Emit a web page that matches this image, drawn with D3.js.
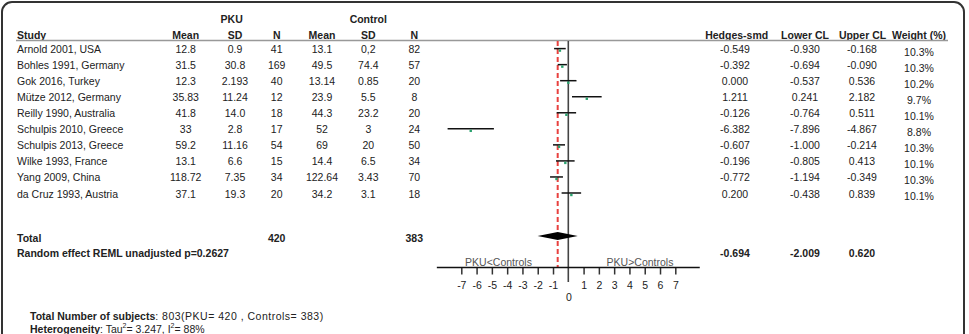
<!DOCTYPE html>
<html>
<head>
<meta charset="utf-8">
<script src="https://cdn.jsdelivr.net/npm/d3@7"></script>
<style>
  body { margin: 0; background: #fff; }
  svg text { font-family: "Liberation Sans", Arial, sans-serif; font-size: 10.5px; fill: #222; }
  .b { font-weight: bold; }
</style>
</head>
<body>
<div class="chart"></div>
<script>
// DATA ------------------------------------
const studies = ['Arnold 2001, USA', 'Bohles 1991, Germany', 'Gok 2016, Turkey', 'Mütze 2012, Germany',
    'Reilly 1990, Australia', 'Schulpis 2010, Greece', 'Schulpis 2013, Greece', 'Wilke 1993, France',
    'Yang 2009, China', 'da Cruz 1993, Austria'];
const pkuMean = ['12.8', '31.5', '12.3', '35.83', '41.8', '33', '59.2', '13.1', '118.72', '37.1'];
const pkuSD = ['0.9', '30.8', '2.193', '11.24', '14.0', '2.8', '11.16', '6.6', '7.35', '19.3'];
const pkuN = ['41', '169', '40', '12', '18', '17', '54', '15', '34', '20'];
const ctlMean = ['13.1', '49.5', '13.14', '23.9', '44.3', '52', '69', '14.4', '122.64', '34.2'];
const ctlSD = ['0,2', '74.4', '0.85', '5.5', '23.2', '3', '20', '6.5', '3.43', '3.1'];
const ctlN = ['82', '57', '20', '8', '20', '24', '50', '34', '70', '18'];
const hedges = [-0.549, -0.392, 0.000, 1.211, -0.126, -6.382, -0.607, -0.196, -0.772, 0.200];
const lowerCL = [-0.930, -0.694, -0.537, 0.241, -0.764, -7.896, -1.000, -0.805, -1.194, -0.438];
const upperCL = [-0.168, -0.090, 0.536, 2.182, 0.511, -4.867, -0.214, 0.413, -0.349, 0.839];
const weights = ['10.3%', '10.3%', '10.2%', '9.7%', '10.1%', '8.8%', '10.3%', '10.1%', '10.3%', '10.1%'];
const pooled = { est: -0.694, lo: -2.009, hi: 0.620 };
const totals = { pku: 420, ctl: 383 };
const axisTicks = [-7, -6, -5, -4, -3, -2, -1, 0, 1, 2, 3, 4, 5, 6, 7];

// CHART INIT ------------------------------
const width = 969, height = 334;

const svg = d3.select('.chart')
    .append('svg')
    .attr('width', width)
    .attr('height', height);

// frame
svg.append('rect')
    .attr('x', 2).attr('y', 2)
    .attr('width', 962).attr('height', 345)
    .attr('rx', 10)
    .attr('fill', 'none')
    .attr('stroke', '#333')
    .attr('stroke-width', 2);

const xScale = d3.scaleLinear().domain([-7, 7]).range([461.3, 675.3]);
const yScale = d3.scaleLinear().domain([0, 9]).range([48.6, 193]);

// plain hyphen for minus, like the source table
const fmt = v => d3.format('.3f')(v).replace('\u2212', '-');

function txt(x, y, s, anchor, cls) {
    return svg.append('text')
        .attr('x', x).attr('y', y)
        .attr('text-anchor', anchor || 'middle')
        .attr('dominant-baseline', 'central')
        .attr('class', cls || null)
        .text(s);
}

// headers
txt(231.7, 18.5, 'PKU', 'middle', 'b');
txt(368.3, 18.5, 'Control', 'middle', 'b');

const headY = 34.5;
txt(17, headY, 'Study', 'start', 'b');
[['Mean', 185.7], ['SD', 235], ['N', 276.7], ['Mean', 322], ['SD', 368.3], ['N', 414.3],
 ['Hedges-smd', 736.7], ['Lower CL', 805], ['Upper CL', 862.5], ['Weight (%)', 919]]
    .forEach(([s, x]) => txt(x, headY, s, 'middle', 'b'));

svg.append('line')
    .attr('x1', 16).attr('x2', 948)
    .attr('y1', 40.5).attr('y2', 40.5)
    .attr('stroke', '#999')
    .attr('stroke-width', 1.5);

// table rows
const cols = [
    [pkuMean, 185.7], [pkuSD, 235], [pkuN, 276.7],
    [ctlMean, 322], [ctlSD, 368.3], [ctlN, 414.3]
];
studies.forEach((s, i) => {
    const y = yScale(i) + 0.5;
    txt(17, y, s, 'start');
    cols.forEach(([arr, x]) => txt(x, y, arr[i]));
    txt(735, y, fmt(hedges[i]));
    txt(805, y, fmt(lowerCL[i]));
    txt(862, y, fmt(upperCL[i]));
    txt(919, y + 2.5, weights[i]);
});

// totals
const totY = 237.5, reY = 253.3;
txt(17, totY, 'Total', 'start', 'b');
txt(276.7, totY, totals.pku, 'middle', 'b');
txt(414.3, totY, totals.ctl, 'middle', 'b');
txt(17, reY, 'Random effect REML unadjusted p=0.2627', 'start', 'b');
txt(735, reY, fmt(pooled.est), 'middle', 'b');
txt(805, reY, fmt(pooled.lo), 'middle', 'b');
txt(862, reY, fmt(pooled.hi), 'middle', 'b');

// FOREST PLOT -----------------------------
const axisY = 267.5;
const plot = svg.append('g');

// zero line
plot.append('line')
    .attr('x1', xScale(0)).attr('x2', xScale(0))
    .attr('y1', 41).attr('y2', 282)
    .attr('stroke', '#444')
    .attr('stroke-width', 1.6);

// pooled estimate dashed line
plot.append('line')
    .attr('x1', xScale(pooled.est)).attr('x2', xScale(pooled.est))
    .attr('y1', 41).attr('y2', axisY)
    .attr('stroke', '#e8413f')
    .attr('stroke-width', 2)
    .attr('stroke-dasharray', '5,3');

// CI lines
plot.selectAll('.ci')
    .data(studies)
    .enter()
    .append('line')
    .attr('class', 'ci')
    .attr('x1', (d, i) => xScale(lowerCL[i]))
    .attr('x2', (d, i) => xScale(upperCL[i]))
    .attr('y1', (d, i) => yScale(i))
    .attr('y2', (d, i) => yScale(i))
    .attr('stroke', '#111')
    .attr('stroke-width', 1.5);

// point markers
plot.selectAll('.pt')
    .data(studies)
    .enter()
    .append('rect')
    .attr('class', 'pt')
    .attr('x', (d, i) => xScale(hedges[i]) - 1.2)
    .attr('y', (d, i) => yScale(i) + 0.8)
    .attr('width', 2.4)
    .attr('height', 2.4)
    .attr('fill', '#2ba36f');

// pooled diamond
const dY = 236;
plot.append('path')
    .attr('d', `M${xScale(pooled.lo)},${dY} L${xScale(pooled.est)},${dY - 4} L${xScale(pooled.hi)},${dY} L${xScale(pooled.est)},${dY + 4} Z`)
    .attr('fill', '#000');

// axis
const xAxis = d3.axisBottom(xScale)
    .tickValues(axisTicks)
    .tickSize(7)
    .tickFormat(d => String(d));

const xDisplay = plot.append('g')
    .attr('class', 'axis x-axis')
    .attr('transform', `translate(0, ${axisY})`)
    .call(xAxis);

xDisplay.select('.domain').remove();
xDisplay.selectAll('.tick line')
    .attr('stroke', '#333')
    .attr('stroke-width', 1.5)
    .filter(d => d === 0).remove();
xDisplay.selectAll('.tick text')
    .attr('fill', '#333')
    .attr('font-size', '11px')
    .attr('font-family', '"Liberation Sans", Arial, sans-serif')
    .attr('dy', null)
    .attr('y', 17)
    .attr('dominant-baseline', 'central')
    .filter(d => d === 0).attr('y', 29);

plot.append('line')
    .attr('x1', xScale(-8.6)).attr('x2', xScale(8.6))
    .attr('y1', axisY).attr('y2', axisY)
    .attr('stroke', '#111')
    .attr('stroke-width', 1.5);

txt(498.5, 262, 'PKU<Controls').style('fill', '#555');
txt(640, 262, 'PKU>Controls').style('fill', '#555');

// FOOTER ----------------------------------
const f1 = svg.append('text').attr('x', 30).attr('y', 316).attr('dominant-baseline', 'central');
f1.append('tspan').attr('class', 'b').text('Total Number of subjects');
f1.append('tspan')
    .attr('letter-spacing', '0.5px')
    .text(`: ${totals.pku + totals.ctl}(PKU= ${totals.pku} , Controls= ${totals.ctl})`);

const f2 = svg.append('text').attr('x', 30).attr('y', 328.5).attr('dominant-baseline', 'central');
f2.append('tspan').attr('class', 'b').text('Heterogeneity');
f2.append('tspan').text(': Tau');
f2.append('tspan').attr('font-size', '7px').attr('dy', -4).text('2');
f2.append('tspan').attr('dy', 4).text('= 3.247, I');
f2.append('tspan').attr('font-size', '7px').attr('dy', -4).text('2');
f2.append('tspan').attr('dy', 4).text('= 88%');
</script>
</body>
</html>
